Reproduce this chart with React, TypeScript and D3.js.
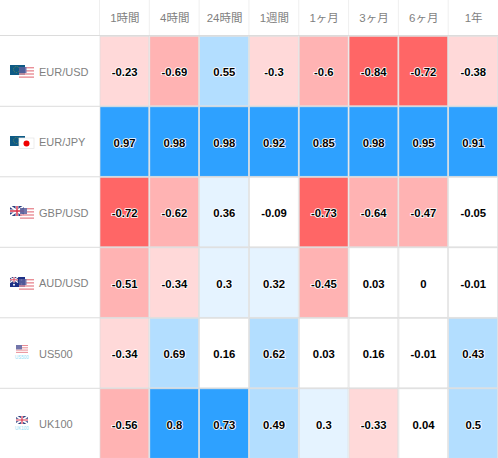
import React from "react";
import * as d3 from "d3";

const columns = ["1時間", "4時間", "24時間", "1週間", "1ヶ月", "3ヶ月", "6ヶ月", "1年"];
const instruments = ["EUR/USD", "EUR/JPY", "GBP/USD", "AUD/USD", "US500", "UK100"];
const rowEURUSD = ["-0.23", "-0.69", "0.55", "-0.3", "-0.6", "-0.84", "-0.72", "-0.38"];
const rowEURJPY = ["0.97", "0.98", "0.98", "0.92", "0.85", "0.98", "0.95", "0.91"];
const rowGBPUSD = ["-0.72", "-0.62", "0.36", "-0.09", "-0.73", "-0.64", "-0.47", "-0.05"];
const rowAUDUSD = ["-0.51", "-0.34", "0.3", "0.32", "-0.45", "0.03", "0", "-0.01"];
const rowUS500 = ["-0.34", "0.69", "0.16", "0.62", "0.03", "0.16", "-0.01", "0.43"];
const rowUK100 = ["-0.56", "0.8", "0.73", "0.49", "0.3", "-0.33", "0.04", "0.5"];
const rows = [rowEURUSD, rowEURJPY, rowGBPUSD, rowAUDUSD, rowUS500, rowUK100];
const thresholds = [-0.7, -0.4, -0.2, 0.2, 0.4, 0.7];
const palette = ["#ff6666", "#ffb3b3", "#ffd9d9", "#ffffff", "#e5f3ff", "#b3deff", "#2ea1ff"];

const WIDTH = 498, HEIGHT = 458;
const GRID = "#dcdcdc";
const SANS = "'Liberation Sans', Arial, 'Noto Sans CJK JP', sans-serif";

const x = d3.scaleBand<string>().domain(columns).range([99.5, 498]);
const y = d3.scaleBand<string>().domain(instruments).range([35.8, 458.8]);
const color = d3.scaleThreshold<number, string>().domain(thresholds).range(palette);

function US({ px, py, w, h }: { px: number; py: number; w: number; h: number }) {
  const n = 7;
  const s = h / n;
  return (
    <g opacity={0.85}>
      <rect x={px} y={py} width={w} height={h} fill="#fff" fillOpacity={0.7} />
      {d3.range(n).filter(i => i % 2 === 0).map(i => (
        <rect key={i} x={px} y={py + i * s} width={w} height={s * 0.9} fill="#e67c86" />
      ))}
      <rect x={px} y={py} width={w * 0.5} height={h * 0.55} fill="#5a5f9c" />
    </g>
  );
}
function EU({ px, py }: { px: number; py: number }) {
  return (
    <g>
      <rect x={px} y={py} width={15} height={10} fill="#0e5a85" />
      <circle cx={px + 6.5} cy={py + 4.5} r={3} fill="none" stroke="#8a9a40" strokeWidth={0.7} strokeDasharray="1 1" />
    </g>
  );
}
function UK({ px, py, w, h }: { px: number; py: number; w: number; h: number }) {
  return (
    <g>
      <rect x={px} y={py} width={w} height={h} fill="#2c3f80" />
      <path d={`M${px} ${py}L${px + w} ${py + h}M${px + w} ${py}L${px} ${py + h}`} stroke="#fff" strokeWidth={h / 5} />
      <path d={`M${px + w / 2} ${py}V${py + h}M${px} ${py + h / 2}H${px + w}`} stroke="#fff" strokeWidth={h / 3.5} />
      <path d={`M${px + w / 2} ${py}V${py + h}M${px} ${py + h / 2}H${px + w}`} stroke="#d8304a" strokeWidth={h / 7} />
    </g>
  );
}
function AU({ px, py }: { px: number; py: number }) {
  return (
    <g>
      <rect x={px} y={py} width={15} height={10} fill="#1c2f86" />
      <UK px={px} py={py} w={8} h={5.5} />
      <circle cx={px + 4} cy={py + 7.8} r={1} fill="#fff" />
      <circle cx={px + 11.5} cy={py + 3} r={0.8} fill="#fff" />
      <circle cx={px + 11.5} cy={py + 7} r={0.8} fill="#fff" />
    </g>
  );
}
function JP({ px, py }: { px: number; py: number }) {
  return (
    <g>
      <rect x={px} y={py} width={15} height={10.5} fill="#fff" stroke="#e4e4e4" strokeWidth={0.7} />
      <circle cx={px + 7.5} cy={py + 5.6} r={3} fill="#f00000" />
    </g>
  );
}
function Caption({ cx, cyy, t }: { cx: number; cyy: number; t: string }) {
  return <text x={cx} y={cyy} textAnchor="middle" fontSize={4.5} fontFamily={SANS} fill="#8fdcf5">{t}</text>;
}
function Flag({ name, cy }: { name: string; cy: number }) {
  const top = Math.round(cy - 6);
  switch (name) {
    case "EUR/USD":
      return <g><EU px={10} py={top} /><US px={19} py={top + 2} w={15} h={11} /></g>;
    case "EUR/JPY":
      return <g><EU px={10} py={top} /><JP px={19} py={top + 2} /></g>;
    case "GBP/USD":
      return <g><UK px={10} py={top} w={14} h={10} /><US px={20} py={top + 2} w={14} h={11} /></g>;
    case "AUD/USD":
      return <g><AU px={10} py={top} /><US px={19} py={top + 2} w={15} h={11} /></g>;
    case "US500":
      return <g><US px={16} py={top - 2} w={12} h={8} /><Caption cx={22} cyy={top + 12} t="US500" /></g>;
    default:
      return <g><UK px={16} py={top - 2} w={12} h={8} /><Caption cx={22} cyy={top + 12} t="UK100" /></g>;
  }
}

export default function App() {
  const bw = x.bandwidth();
  const bh = y.bandwidth();
  return (
    <svg width={WIDTH} height={HEIGHT} style={{ position: "absolute", left: 0, top: 0 }} fontFamily={SANS}>
      <rect width={WIDTH} height={HEIGHT} fill="#fff" />
      {columns.map(c => (
        <g key={c}>
          <line x1={x(c)!} x2={x(c)!} y1={0} y2={35} stroke="#efefef" />
          <text x={x(c)! + bw / 2 + 0.5} y={18} dy="0.36em" textAnchor="middle" fontSize={11.5} fill="#7f7f7f">{c}</text>
        </g>
      ))}
      <line x1={0} x2={WIDTH} y1={35.5} y2={35.5} stroke={GRID} />
      {instruments.map((name, r) => {
        const ry = y(name)!;
        return (
          <g key={name}>
            <Flag name={name} cy={ry + bh / 2} />
            <text x={39} y={ry + bh / 2 + 0.6} dy="0.36em" fontSize={11} fill="#7f7f7f">{name}</text>
            <line x1={0} x2={WIDTH} y1={ry + bh} y2={ry + bh} stroke={GRID} />
            {columns.map((c, k) => {
              const v = rows[r][k];
              return (
                <g key={c}>
                  <rect x={x(c)! + 0.5} y={ry + 0.5} width={bw - 1} height={bh - 1} fill={color(+v)} stroke={GRID} strokeWidth={0.7} />
                  <text x={x(c)! + bw / 2 + 0.2} y={ry + bh / 2 + 1.3} dy="0.36em" textAnchor="middle" fontSize={11.3} fontWeight={700} fill="#000" stroke="#fff" strokeWidth={1.7} strokeLinejoin="round" style={{ paintOrder: "stroke" }}>{v}</text>
                </g>
              );
            })}
          </g>
        );
      })}
    </svg>
  );
}
